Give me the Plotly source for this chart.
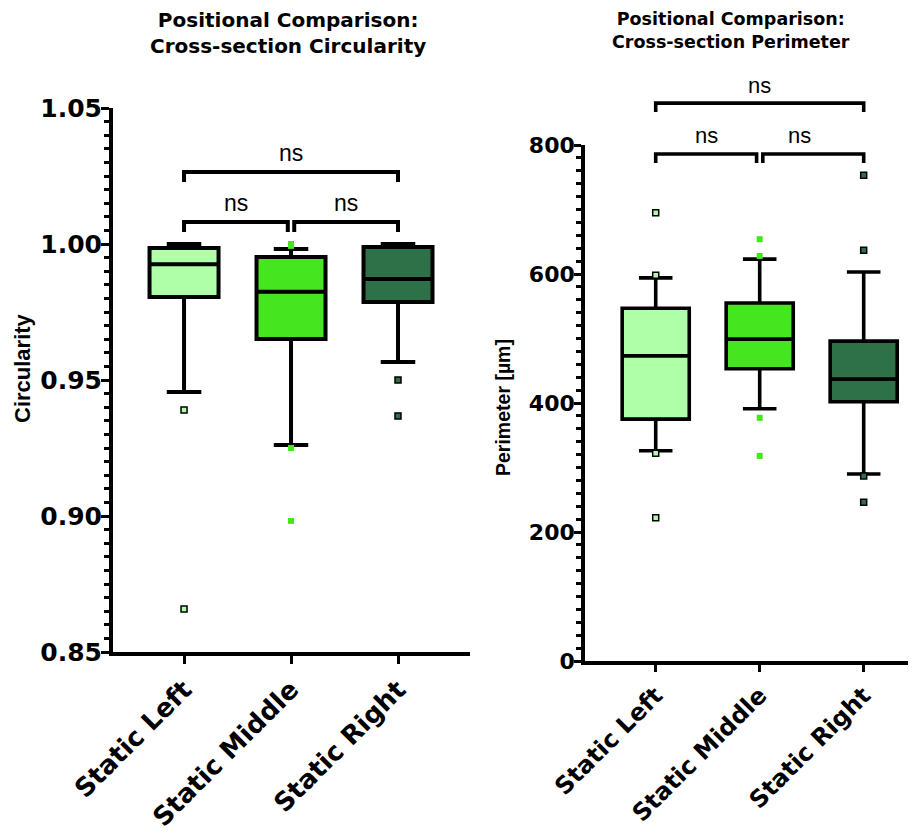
import plotly.graph_objects as go

# ---------------- data ----------------
categories = ["Static Left", "Static Middle", "Static Right"]
box_colors = ["#AFFFA8", "#45E61F", "#2E7048"]

circ_q1 = [0.9805, 0.9651, 0.9787]
circ_median = [0.9926, 0.9824, 0.9871]
circ_q3 = [0.9985, 0.9952, 0.9989]
circ_lower = [0.9456, 0.9261, 0.9566]
circ_upper = [1.0000, 0.9982, 1.0000]
circ_outliers = [[0.9390, 0.8658], [0.9993, 1.0000, 0.9250, 0.8982], [0.9500, 0.9368]]

perim_q1 = [375, 453, 402]
perim_median = [473, 499, 437]
perim_q3 = [547, 555, 496]
perim_lower = [326, 391, 290]
perim_upper = [594, 623, 603]
perim_outliers = [[695, 598, 322, 222], [654, 628, 377, 318], [753, 637, 287, 246]]

sig_pairs = [(0, 2), (0, 1), (1, 2)]
sig_labels = ["ns", "ns", "ns"]
circ_sig_levels = [1.0265, 1.0081, 1.0081]
perim_sig_levels = [865, 786, 786]

# ---------------- layout constants ----------------
W, H = 916, 836
OFF = 8  # page body margin
FONT_BOLD = "DejaVu Sans"
circ_range = [0.85, 1.05]
perim_range = [0, 800]
circ_xrange = [-0.664, 2.673]
perim_xrange = [-0.68, 2.58]


def xp(px):
    return (px - OFF) / W


def yp(py):
    return 1 - (py - OFF) / H


fig = go.Figure()


def add_panel(q1, med, q3, lo, hi, outs, xa, ya, lw):
    for i, cat in enumerate(categories):
        fig.add_trace(go.Box(
            x=[cat], q1=[q1[i]], median=[med[i]], q3=[q3[i]],
            lowerfence=[lo[i]], upperfence=[hi[i]],
            xaxis=xa, yaxis=ya, width=0.645, whiskerwidth=0.5,
            fillcolor=box_colors[i], line=dict(color="black", width=lw),
            boxpoints=False, showlegend=False, hoverinfo="skip"))
    for i, cat in enumerate(categories):
        fig.add_trace(go.Scatter(
            x=[cat] * len(outs[i]), y=outs[i], mode="markers",
            xaxis=xa, yaxis=ya, showlegend=False, hoverinfo="skip",
            cliponaxis=False,
            marker=dict(symbol="square", size=6, color=box_colors[i],
                        line=dict(color="black", width=0 if i == 1 else 1.5))))


add_panel(circ_q1, circ_median, circ_q3, circ_lower, circ_upper, circ_outliers, "x", "y", 4)
add_panel(perim_q1, perim_median, perim_q3, perim_lower, perim_upper, perim_outliers, "x2", "y2", 3.6)


def fx(v, r):
    return (v - r[0]) / (r[1] - r[0])


shapes = []
annotations = []


def add_brackets(levels, yr, xr, xref, yref, drop, text_off, shrink, lw, fsize):
    for (a, b), lvl, lab in zip(sig_pairs, levels, sig_labels):
        xa_ = a + (shrink if (b - a == 1 and a == 1) else 0)
        xb_ = b - (shrink if (b - a == 1 and b == 1) else 0)
        x0, x1 = fx(xa_, xr), fx(xb_, xr)
        yb, yt = fx(lvl, yr), fx(lvl - drop, yr)
        shapes.append(dict(type="path", xref=xref, yref=yref,
                           path=f"M {x0},{yt} L {x0},{yb} L {x1},{yb} L {x1},{yt}",
                           line=dict(color="black", width=lw)))
        annotations.append(dict(text=lab, xref=xref, yref=yref,
                                x=fx((xa_ + xb_) / 2, xr), y=fx(lvl + text_off, yr),
                                showarrow=False, yanchor="middle",
                                font=dict(family="Liberation Sans", size=fsize, color="black")))


add_brackets(circ_sig_levels, circ_range, circ_xrange, "x domain", "y domain", 0.0037, 0.0070, 0.03, 4, 23)
add_brackets(perim_sig_levels, perim_range, perim_xrange, "x2 domain", "y2 domain", 14, 28, 0.03, 3.6, 22)

# titles
annotations.append(dict(text="Positional Comparison:<br>Cross-section Circularity",
                        xref="paper", yref="paper", x=xp(288), y=yp(6),
                        xanchor="center", yanchor="top", showarrow=False,
                        font=dict(family=FONT_BOLD, size=20, color="black", weight="bold")))
annotations.append(dict(text="Positional Comparison:<br>Cross-section Perimeter",
                        xref="paper", yref="paper", x=xp(731), y=yp(7),
                        xanchor="center", yanchor="top", showarrow=False,
                        font=dict(family=FONT_BOLD, size=17.5, color="black", weight="bold")))
# y titles
annotations.append(dict(text="Circularity", xref="paper", yref="paper",
                        x=xp(22), y=yp(368), textangle=-90, showarrow=False,
                        xanchor="center", yanchor="middle", borderpad=0,
                        font=dict(family="Liberation Sans", size=22, color="black", weight="bold")))
annotations.append(dict(text="Perimeter [µm]", xref="paper", yref="paper",
                        x=xp(503), y=yp(407), textangle=-90, showarrow=False,
                        xanchor="center", yanchor="middle",
                        font=dict(family="Liberation Sans", size=19.5, color="black", weight="bold")))

axis_common = dict(showgrid=False, zeroline=False, showline=True, linecolor="black",
                   ticks="outside", tickcolor="black", mirror=False, automargin=False)

fig.update_layout(
    width=W, height=H,
    margin=dict(l=0, r=0, t=0, b=0),
    paper_bgcolor="white", plot_bgcolor="white",
    showlegend=False,
    shapes=shapes, annotations=annotations,
    xaxis=dict(**axis_common, domain=[xp(113), xp(470)], anchor="y",
               type="category", categoryorder="array", categoryarray=categories,
               range=circ_xrange, linewidth=4, ticklen=8, tickwidth=3, tickangle=-45,
               tickfont=dict(family=FONT_BOLD, size=26, color="black", weight="bold")),
    yaxis=dict(**axis_common, domain=[yp(652), yp(108)], anchor="x",
               range=circ_range, dtick=0.05, tick0=0.85, tickformat=".2f",
               linewidth=4, ticklen=8, tickwidth=3, ticklabelstandoff=-6,
               minor=dict(dtick=0.005, ticklen=5, tickwidth=3, ticks="outside", tickcolor="black"),
               tickfont=dict(family=FONT_BOLD, size=25, color="black", weight="bold")),
    xaxis2=dict(**axis_common, domain=[xp(585), 1.0], anchor="y2",
                type="category", categoryorder="array", categoryarray=categories,
                range=perim_xrange, linewidth=3.6, ticklen=7, tickwidth=3, tickangle=-45,
                tickfont=dict(family=FONT_BOLD, size=24, color="black", weight="bold")),
    yaxis2=dict(**axis_common, domain=[yp(661), yp(145)], anchor="x2",
                range=perim_range, dtick=200, tick0=0,
                linewidth=3.6, ticklen=7, tickwidth=3, ticklabelstandoff=-5,
                minor=dict(dtick=20, ticklen=5, tickwidth=3, ticks="outside", tickcolor="black"),
                tickfont=dict(family=FONT_BOLD, size=22, color="black", weight="bold")),
)

fig.write_html("out.html")
